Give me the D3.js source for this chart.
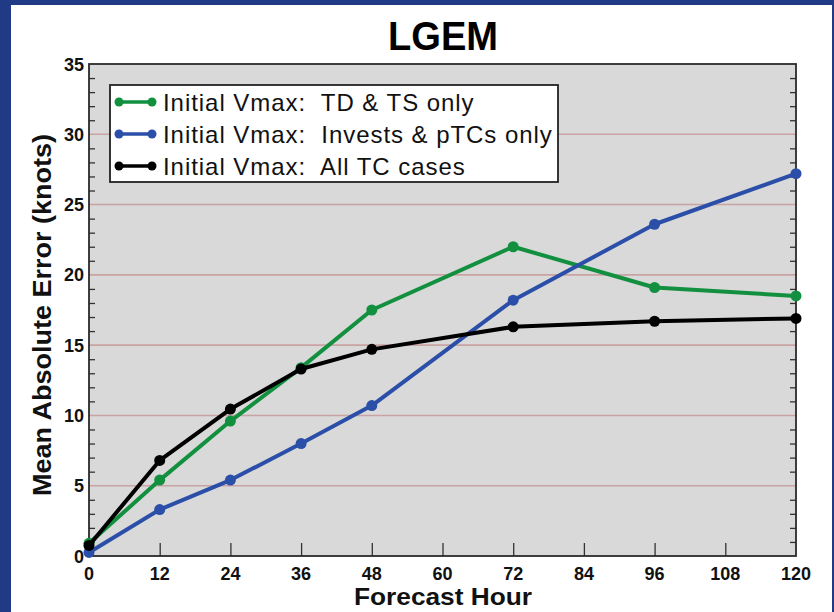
<!DOCTYPE html>
<html><head><meta charset="utf-8">
<script src="https://cdn.jsdelivr.net/npm/d3@7"></script>
<style>
html,body{margin:0;padding:0;background:#213a86;}
svg{display:block;font-family:"Liberation Sans",Arial,Helvetica,sans-serif;}
</style></head>
<body>
<svg id="chart" width="834" height="612"></svg>
<script>
const hours = [0, 12, 24, 36, 48, 72, 96, 120];
const tdts = [0.9, 5.4, 9.6, 13.4, 17.5, 22.0, 19.1, 18.5];
const invests = [0.25, 3.3, 5.4, 8.0, 10.7, 18.2, 23.6, 27.2];
const allTC = [0.75, 6.8, 10.45, 13.3, 14.7, 16.3, 16.7, 16.9];
const seriesNames = ["Initial Vmax:  TD & TS only", "Initial Vmax:  Invests & pTCs only", "Initial Vmax:  All TC cases"];
const seriesColors = ["#12903f", "#2b4fa8", "#000000"];
const xTicks = [0, 12, 24, 36, 48, 60, 72, 84, 96, 108, 120];
const yTicks = [0, 5, 10, 15, 20, 25, 30, 35];
const title = "LGEM";
const xTitle = "Forecast Hour";
const yTitle = "Mean Absolute Error (knots)";

const svg = d3.select("#chart");
svg.append("rect").attr("x", 11).attr("y", 5).attr("width", 821).attr("height", 607).attr("fill", "#ffffff");

const L = 89, R = 796, T = 64, B = 556;
const x = d3.scaleLinear().domain([0, 120]).range([L, R]);
const y = d3.scaleLinear().domain([0, 35]).range([B, T]);

svg.append("rect").attr("x", L).attr("y", T).attr("width", R - L).attr("height", B - T).attr("fill", "#d9d9d9");

// gridlines
svg.append("g").selectAll("line").data(yTicks.filter(d => d > 0 && d < 35)).join("line")
  .attr("x1", L).attr("x2", R).attr("y1", d => y(d)).attr("y2", d => y(d))
  .attr("stroke", "#c9a3a3").attr("stroke-width", 1.6);

// minor ticks on y (left & right)
const minor = d3.range(1, 35).filter(d => d % 5 !== 0);
svg.append("g").attr("transform", `translate(${L},0)`)
  .call(d3.axisRight(y).tickValues(minor).tickSize(6).tickFormat(""))
  .call(g => g.select(".domain").remove())
  .call(g => g.selectAll("line").attr("stroke", "#333").attr("stroke-width", 1.3));
svg.append("g").attr("transform", `translate(${R},0)`)
  .call(d3.axisLeft(y).tickValues(minor).tickSize(6).tickFormat(""))
  .call(g => g.select(".domain").remove())
  .call(g => g.selectAll("line").attr("stroke", "#333").attr("stroke-width", 1.3));

// x ticks (inside, up)
svg.append("g").attr("transform", `translate(0,${B})`)
  .call(d3.axisTop(x).tickValues(xTicks.filter(d => d > 0 && d < 120)).tickSize(13).tickFormat(""))
  .call(g => g.select(".domain").remove())
  .call(g => g.selectAll("line").attr("stroke", "#333").attr("stroke-width", 1.3));

// frame
svg.append("rect").attr("x", L).attr("y", T).attr("width", R - L).attr("height", B - T)
  .attr("fill", "none").attr("stroke", "#2a2a2a").attr("stroke-width", 1.8);

// tick labels
svg.append("g").selectAll("text").data(xTicks).join("text")
  .attr("x", d => x(d)).attr("y", 580).attr("text-anchor", "middle")
  .attr("font-size", 18).attr("font-weight", "bold").attr("fill", "#111").text(d => d);
svg.append("g").selectAll("text").data(yTicks).join("text")
  .attr("x", 84).attr("y", d => y(d) + 6.5).attr("text-anchor", "end")
  .attr("font-size", 18).attr("font-weight", "bold").attr("fill", "#111").text(d => d);

// titles
svg.append("text").attr("x", 443).attr("y", 50).attr("text-anchor", "middle")
  .attr("font-size", 40).attr("font-weight", "bold").attr("textLength", 110).attr("lengthAdjust", "spacingAndGlyphs").text(title);
svg.append("text").attr("x", 443).attr("y", 605).attr("text-anchor", "middle")
  .attr("font-size", 24).attr("font-weight", "bold").attr("fill", "#111")
  .attr("textLength", 178).attr("lengthAdjust", "spacingAndGlyphs").text(xTitle);
svg.append("text").attr("transform", `translate(51,315) rotate(-90)`).attr("text-anchor", "middle")
  .attr("font-size", 25).attr("font-weight", "bold").attr("fill", "#111")
  .attr("textLength", 362).attr("lengthAdjust", "spacingAndGlyphs").text(yTitle);

// series
const data = [tdts, invests, allTC];
const line = d3.line().x((d, i) => x(hours[i])).y(d => y(d));
[0, 1, 2].forEach(k => {
  const g = svg.append("g");
  g.append("path").datum(data[k]).attr("d", line).attr("fill", "none")
    .attr("stroke", seriesColors[k]).attr("stroke-width", 4).attr("stroke-linejoin", "round");
  g.selectAll("circle").data(data[k]).join("circle")
    .attr("cx", (d, i) => x(hours[i])).attr("cy", d => y(d)).attr("r", 5.5).attr("fill", seriesColors[k]);
});

// legend
const lg = svg.append("g");
lg.append("rect").attr("x", 110).attr("y", 85).attr("width", 448).attr("height", 97)
  .attr("fill", "#ffffff").attr("stroke", "#222").attr("stroke-width", 1.8);
seriesNames.forEach((name, i) => {
  const cy = 102 + i * 32;
  lg.append("line").attr("x1", 119).attr("x2", 152).attr("y1", cy).attr("y2", cy)
    .attr("stroke", seriesColors[i]).attr("stroke-width", 3.5);
  lg.append("circle").attr("cx", 119).attr("cy", cy).attr("r", 4.5).attr("fill", seriesColors[i]);
  lg.append("circle").attr("cx", 152).attr("cy", cy).attr("r", 4.5).attr("fill", seriesColors[i]);
  lg.append("text").attr("x", 163).attr("y", cy + 8.5).attr("font-size", 24).attr("fill", "#111")
    .attr("letter-spacing", 0.95)
    .style("white-space", "pre").attr("xml:space", "preserve").text(name);
});
</script>
</body></html>
